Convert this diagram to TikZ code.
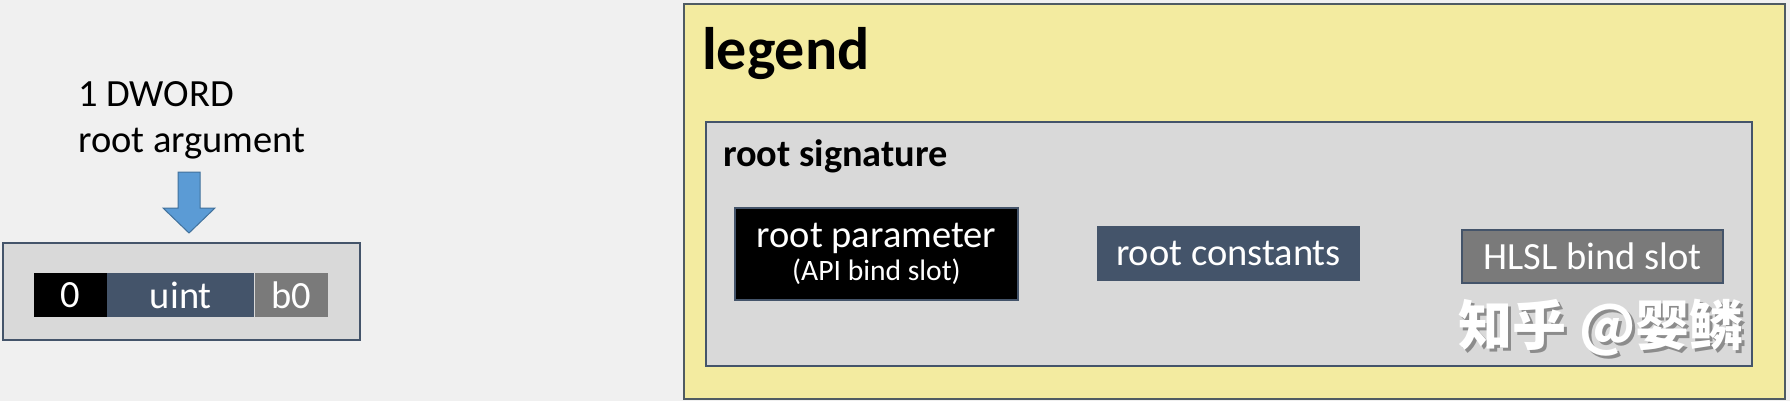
\documentclass[tikz,border=0pt]{standalone}
\usepackage{fontspec}
\setmainfont{Carlito}
\newfontfamily\cjkfont{Noto Sans CJK SC}
\usetikzlibrary{positioning}
\definecolor{pagebg}{HTML}{F0F0F0}
\definecolor{legyellow}{HTML}{F3EBA0}
\definecolor{panelgrey}{HTML}{D9D9D9}
\definecolor{slate}{HTML}{44546A}
\definecolor{slotgrey}{HTML}{7A7A7A}
\definecolor{argblue}{HTML}{5B9BD5}
\definecolor{argedge}{HTML}{41719C}
\definecolor{edgegrey}{HTML}{4F5B62}
\definecolor{shadegrey}{HTML}{8C8C8C}

\begin{document}
\begin{tikzpicture}[x=1pt, y=-1pt,
  panel/.style={draw=slate, line width=1.5pt, fill=panelgrey, inner sep=0pt},
  cell/.style={inner sep=0pt, text=white, font=\fontsize{38.5}{44}\selectfont, minimum height=44pt},
  lbl/.style={inner sep=0pt, anchor=base west, font=\fontsize{38.5}{44}\selectfont},
  wmark/.style={inner sep=0pt, font=\cjkfont\bfseries\fontsize{54}{60}\selectfont}
]
\useasboundingbox[fill=pagebg] (0,0) rectangle (1790,401);
\node[lbl] (dword) at (78,107) {1 DWORD};
\node[lbl] (rarg)  at (78,152) {root argument};
\filldraw[fill=argblue, draw=argedge, line width=1pt] (178,172) -- (200,172) -- (200,208) -- (215,208)
  -- (189,233) -- (163,208) -- (178,208) -- cycle;
\node[panel, minimum width=357pt, minimum height=97pt] (argbox) at (181.5,291.5) {};
\node[cell, fill=black, minimum width=73pt] (idx) at (70.5,295) {0};
\node[cell, fill=slate, minimum width=147pt, right=0pt of idx] (ty) {uint};
\node[cell, fill=slotgrey, minimum width=73pt, right=0pt of ty] (reg) {b0};

\node[draw=edgegrey, line width=1.5pt, fill=legyellow, inner sep=0pt,
  minimum width=1101pt, minimum height=395pt] (legend) at (1234.5,201.5) {};
\node[inner sep=0pt, anchor=base west, font=\fontsize{60}{70}\selectfont\bfseries] (legtitle) at (702,70) {legend};
\node[panel, minimum width=1046pt, minimum height=244pt] (sig) at (1229,244) {};
\node[lbl, font=\fontsize{38.3}{44}\selectfont\bfseries] (sigtitle) at (723,166) {root signature};
\node[cell, fill=black, draw=slate, line width=1.5pt, minimum width=283pt, minimum height=92pt,
  align=center, font=\fontsize{38.5}{33}\selectfont] (param) at (876.5,254)
  {root parameter\\{\fontsize{29.6}{33}\selectfont(API bind slot)}};
\node[cell, fill=slate, draw=slate, line width=1.5pt, minimum width=261pt, minimum height=53pt] (consts) at (1228.5,253.5) {root constants};
\node[cell, fill=slotgrey, draw=slate, line width=1.5pt, minimum width=261pt, minimum height=53pt] (slot) at (1592.5,256.5) {HLSL bind slot};
\node[wmark, text=shadegrey] (markshade) at (1604,331) {知乎 @婴鳞};
\node[wmark, text=white] (markfg) at (1601,328) {知乎 @婴鳞};
\end{tikzpicture}
\end{document}
